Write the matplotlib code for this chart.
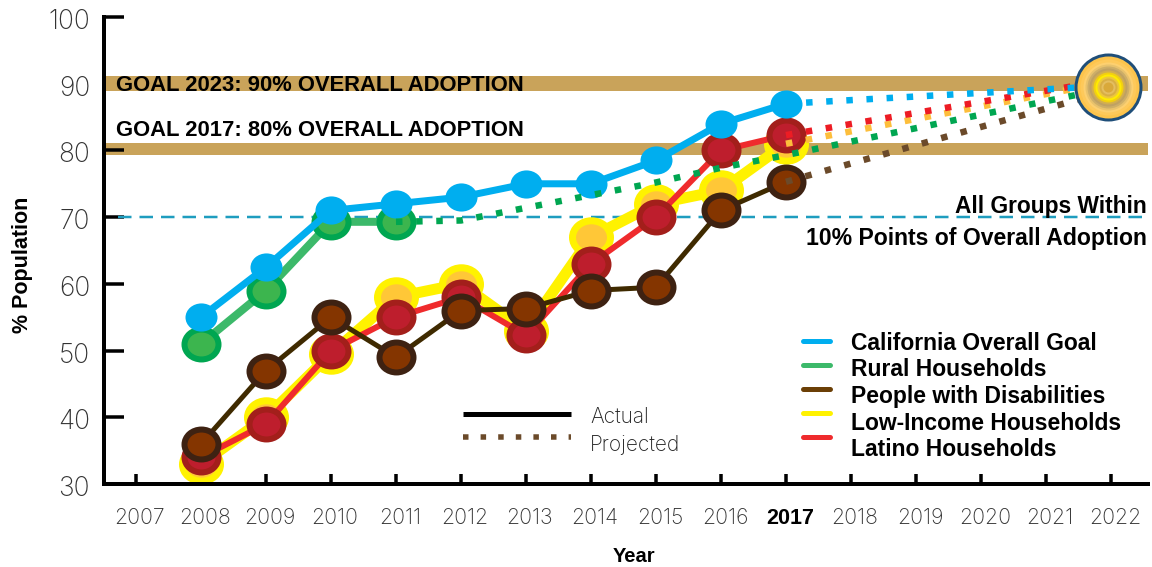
import matplotlib
matplotlib.use("Agg")
import matplotlib.pyplot as plt
from matplotlib.path import Path
from matplotlib.transforms import Affine2D

years = [2008, 2009, 2010, 2011, 2012, 2013, 2014, 2015, 2016, 2017]
all_years = list(range(2007, 2023))

overall = [55, 62.5, 71, 72, 73, 75, 75, 78.5, 84, 87]
rural_years = [2008, 2009, 2010, 2011]
rural = [51, 59, 69.3, 69.3]
disabilities = [36, 47, 55, 49, 56, 56.3, 59, 59.5, 71, 75.3]
low_income = [33, 40, 49.5, 58, 60, 53, 67, 72, 74, 81]
latino = [34, 39, 50, 55, 58, 52.3, 63, 70, 80, 82.3]

proj_years = [2017, 2022]
overall_proj = [87, 89.7]
rural_proj_years = [2011, 2012, 2013, 2014, 2015, 2016, 2017, 2022]
rural_proj = [69.3, 69.5, 71.4, 73.3, 75.2, 77.4, 79.3, 89.4]
disabilities_proj = [75.3, 89]
low_income_proj = [81, 90.3]
latino_proj = [82.3, 90.6]

legend_names = ["California Overall Goal", "Rural Households", "People with Disabilities",
                "Low-Income Households", "Latino Households"]
legend_colors = ["#00AEEF", "#3CB96A", "#6B3F06", "#FFF200", "#EF2B2D"]
legend_line_y = [341, 365, 389, 413, 437]
legend_text_y = [341, 367, 394, 421, 447]

# outer to inner rings of the goal badge: diameter in px, colour
goal_sizes = [68, 62, 56, 50, 46, 42, 38, 34, 30, 26, 22, 18, 14, 10]
goal_colors = ["#1F4E79", "#FDC44C", "#FEC95A", "#FDD070", "#E8C26C", "#CDAE68", "#BFA163",
               "#D2AE50", "#F2D010", "#FFEB00", "#EDC83A", "#D8AE45", "#E4BE60", "#D9A93A"]

px = 0.72  # points per pixel at dpi 100
oval = Path.unit_circle().transformed(Affine2D().scale(1, 0.88))
pix = Affine2D().scale(1, -1).translate(0, 567)  # image pixels, y down
bold = {"family": "Liberation Sans", "weight": "bold"}

plt.rcParams["font.family"] = ["Inter", "DejaVu Sans"]

fig = plt.figure(figsize=(11.52, 5.67), dpi=100)
ax = fig.add_axes([104 / 1152, 1 - 484 / 567, (1148 - 104) / 1152, (484 - 17) / 567])

ax.axhspan(88.9, 91.2, color="#C9A35A", lw=0, zorder=1)
ax.axhspan(79.3, 81.1, color="#C9A35A", lw=0, zorder=1)
ax.plot([2006.73, 2022.57], [70, 70], color="#1E9DBF", lw=2.5 * px, dashes=(5.4, 3.2))


def actual(x, y, color, lw, edge, face, size, mew):
    ax.plot(x, y, color=color, lw=lw * px, solid_capstyle="butt", zorder=2)
    ax.plot(x, y, ls="none", marker=oval, ms=size * px, mfc=face, mec=edge, mew=mew * px, zorder=2)


actual(years, low_income, "#FFF200", 11, "#FFF200", "#FFC737", 38, 7)
actual(years, latino, "#EF2B2D", 6, "#A31F1B", "#BE1E2D", 34, 6)
actual(years, disabilities, "#3F2A00", 5, "#3E2212", "#843500", 34, 6)
actual(rural_years, rural, "#3CB96A", 8, "#00A651", "#3CB54E", 34, 6)
actual(years, overall, "#00AEEF", 7, "#00AEEF", "#00AEEF", 32, 0)

for x, y, c in [(proj_years, low_income_proj, "#FDBE3B"),
                (rural_proj_years, rural_proj, "#00A651"),
                (proj_years, latino_proj, "#ED1C24"),
                (proj_years, disabilities_proj, "#6B4A2A"),
                (proj_years, overall_proj, "#00AEEF")]:
    ax.plot(x, y, color=c, lw=6.5 * px, dashes=(1, 2.1), zorder=2)

for d, c in zip(goal_sizes, goal_colors):
    ax.scatter([2021.95], [89.5], s=(d * px) ** 2, color=c, lw=0, zorder=4, clip_on=False)

ax.set_xlim(2006.508, 2022.57)
ax.set_ylim(30, 100)
ax.set_xticks(all_years)
ax.set_yticks(range(30, 101, 10))
ax.tick_params(axis="x", direction="in", length=10 * px, width=3.5 * px, pad=17, labelsize=15.3,
               labelcolor="#333333")
ax.tick_params(axis="y", direction="in", length=20 * px, width=3.5 * px, pad=10, labelsize=19,
               labelcolor="#333333")
for lab in ax.get_xticklabels():
    lab.set_fontweight("light")
    lab.set_transform(lab.get_transform() + Affine2D().translate(4, 0))
    if lab.get_text() == "2017":
        lab.set_fontproperties(bold)
        lab.set_fontsize(15.5)
        lab.set_color("black")
for lab in ax.get_yticklabels():
    lab.set_fontweight("light")
    lab.set_transform(lab.get_transform() + Affine2D().translate(0, -2))
ax.yaxis.get_major_ticks()[-1].tick1line.set_color("#0B2D5E")
ax.yaxis.get_major_ticks()[6].tick1line.set_visible(False)  # the 90 tick is lost in the band

ax.spines["top"].set_visible(False)
ax.spines["right"].set_visible(False)
ax.spines["left"].set_linewidth(4 * px)
ax.spines["bottom"].set_linewidth(4 * px)

ax.set_xlabel("Year", fontsize=14.5, va="center", **bold)
ax.xaxis.set_label_coords(0.5077, -0.156)
ax.set_ylabel("% Population", fontsize=15.5, va="center", **bold)
ax.yaxis.set_label_coords(-0.0785, 0.469)

ax.text(116, 85.5, "GOAL 2023: 90% OVERALL ADOPTION", fontsize=15.8, va="center", transform=pix, **bold)
ax.text(116, 130.5, "GOAL 2017: 80% OVERALL ADOPTION", fontsize=15.8, va="center", transform=pix, **bold)
ax.text(1147, 206, "All Groups Within", fontsize=16.4, va="center", ha="right", transform=pix, **bold)
ax.text(1147, 238, "10% Points of Overall Adoption", fontsize=16.6, va="center", ha="right", transform=pix, **bold)

for name, c, ly, ty in zip(legend_names, legend_colors, legend_line_y, legend_text_y):
    ax.plot([803, 830], [ly, ly], color=c, lw=5 * px, solid_capstyle="round", transform=pix, clip_on=False)
    ax.text(851, ty + 2, name, fontsize=16.5, va="center", transform=pix, **bold)

ax.plot([463, 571], [414, 414], color="black", lw=5 * px, solid_capstyle="butt", transform=pix)
ax.plot([463, 571], [437, 437], color="#6B4A2A", lw=5.5 * px, dashes=(1, 2.2), transform=pix)
ax.text(590, 417, "Actual", fontsize=15, fontweight="light", va="center", color="#222222", transform=pix)
ax.text(590, 445, "Projected", fontsize=15, fontweight="light", va="center", color="#222222", transform=pix)

fig.savefig("out.png", dpi=100)
